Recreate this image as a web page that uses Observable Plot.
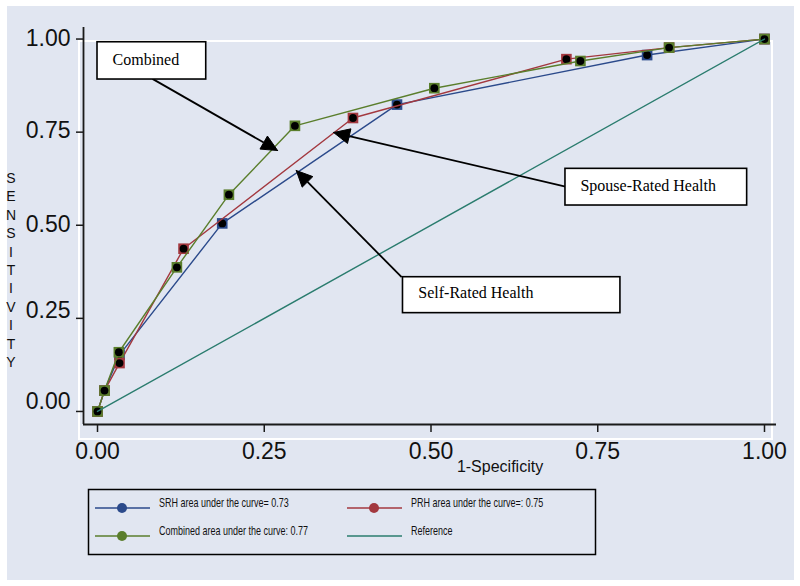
<!DOCTYPE html>
<html><head><meta charset="utf-8">
<script src="https://cdn.jsdelivr.net/npm/d3@7"></script>
<script src="https://cdn.jsdelivr.net/npm/@observablehq/plot@0.6"></script>
<style>
body{margin:0;background:#fff;}
#wrap{position:relative;width:800px;height:586px;overflow:hidden;background:#fff;}
#bg{position:absolute;left:7px;top:6px;width:787px;height:574px;background:#e1e6f1;}
#region{position:absolute;left:78px;top:40px;width:691px;height:396px;border:2px solid #fff;}
#chart{position:absolute;left:0;top:0;}
</style></head><body>
<div id="wrap"><div id="bg"></div><div id="region"></div><div id="chart"></div></div>
<script>
// ---- data ----
const xTicks = [0, 0.25, 0.5, 0.75, 1];
const yTicks = [0, 0.25, 0.5, 0.75, 1];
const seriesNames = ["SRH", "PRH", "Combined"];
const srhFpr  = [0, 0.0105, 0.033, 0.187, 0.449, 0.824, 1];
const srhSens = [0, 0.056, 0.152, 0.505, 0.824, 0.957, 1];
const prhFpr  = [0, 0.0105, 0.033, 0.129, 0.383, 0.703, 0.857, 1];
const prhSens = [0, 0.056, 0.130, 0.437, 0.788, 0.946, 0.977, 1];
const combFpr  = [0, 0.0105, 0.032, 0.119, 0.197, 0.296, 0.505, 0.724, 0.857, 1];
const combSens = [0, 0.056, 0.159, 0.387, 0.582, 0.767, 0.868, 0.941, 0.977, 1];
const refFpr  = [0, 1];
const refSens = [0, 1];
const legendLabels = ["SRH area under the curve= 0.73", "PRH area under the curve=: 0.75", "Combined area under the curve: 0.77", "Reference"];
const annoLabels = ["Combined", "Spouse-Rated Health", "Self-Rated Health"];
// annotation boxes, text anchors, arrows (data coordinates)
const annoBoxX1 = [0.0, 0.7016, 0.458];
const annoBoxX2 = [0.163, 0.974, 0.784];
const annoBoxY1 = [0.8913, 0.553, 0.264];
const annoBoxY2 = [0.9914, 0.6515, 0.3605];
const annoTextX = [0.0225, 0.724, 0.481];
const annoTextY = [0.9445, 0.607, 0.319];
const arrowFromX = [0.0825, 0.7016, 0.456];
const arrowFromY = [0.893, 0.604, 0.3605];
const arrowToX = [0.270, 0.354, 0.298];
const arrowToY = [0.7007, 0.749, 0.647];
const xLabel = "1-Specificity";
const yLabel = "SENSITIVITY";

// ---- styles ----
const colors = {SRH: "#2b4a8b", PRH: "#a3383f", Combined: "#5a7e2c", Reference: "#2a7c6e"};
const yLabelShift = [-10, -8, -1, -2, 0];
const W = 800, H = 586, mL = 83, mR = 24, mT = 27, mB = 162;
const xDomain = [-0.021, 1.018], yDomain = [-0.035, 1.031];
const kx = (W - mL - mR) / (xDomain[1] - xDomain[0]);
const ky = (H - mT - mB) / (yDomain[1] - yDomain[0]);

const seriesData = {
  SRH: srhFpr.map((x, i) => ({x, y: srhSens[i], s: "SRH"})),
  PRH: prhFpr.map((x, i) => ({x, y: prhSens[i], s: "PRH"})),
  Combined: combFpr.map((x, i) => ({x, y: combSens[i], s: "Combined"}))
};
const refData = refFpr.map((x, i) => ({x, y: refSens[i]}));

// arrows
const arrows = annoLabels.map((lab, i) => {
  const fx = arrowFromX[i], fy = arrowFromY[i], tx = arrowToX[i], ty = arrowToY[i];
  const dxp = (tx - fx) * kx, dyp = (ty - fy) * ky;
  const len = Math.hypot(dxp, dyp), ux = dxp / len, uy = dyp / len;
  const L = 16, Hw = 7.5;
  const bx = tx - ux * L / kx, by = ty - uy * L / ky;
  const nx = -uy, ny = ux;
  return {
    i, fx, fy, bx, by,
    poly: [[tx, ty], [bx + nx * Hw / kx, by + ny * Hw / ky], [bx - nx * Hw / kx, by - ny * Hw / ky], [tx, ty]].map(p => ({x: p[0], y: p[1], i}))
  };
});
const boxes = annoLabels.map((lab, i) => ({lab, x1: annoBoxX1[i], x2: annoBoxX2[i], y1: annoBoxY1[i], y2: annoBoxY2[i], tx: annoTextX[i], ty: annoTextY[i]}));

const marks = [
  Plot.ruleX([xDomain[0]], {stroke: "#1a1a1a", strokeWidth: 1.8}),
  Plot.ruleY([yDomain[0]], {stroke: "#1a1a1a", strokeWidth: 1.8}),
  Plot.axisX(xTicks, {tickSize: 8, tickPadding: 10, tickFormat: d3.format(".2f"), fontSize: 23, label: null, stroke: "#1a1a1a", strokeWidth: 1.5, fill: "#111"}),
  Plot.axisY(yTicks, {tickSize: 7, tickFormat: null, text: null, label: null, stroke: "#1a1a1a", strokeWidth: 1.5}),
  ...yTicks.map((t, i) => Plot.text([t], {x: xDomain[0], y: d => d, text: d3.format(".2f"), textAnchor: "end", dx: -13, dy: yLabelShift[i], fontSize: 23, fill: "#111"}))
];
for (const s of seriesNames) {
  marks.push(Plot.line(seriesData[s], {x: "x", y: "y", stroke: colors[s], strokeWidth: 1.4}));
  marks.push(Plot.dot(seriesData[s], {x: "x", y: "y", symbol: "square", r: 6, fill: colors[s], stroke: null}));
  marks.push(Plot.dot(seriesData[s], {x: "x", y: "y", r: 3.9, fill: "#000", stroke: null}));
}
marks.push(Plot.line(refData, {x: "x", y: "y", stroke: colors.Reference, strokeWidth: 1.4}));
// annotations
marks.push(Plot.link(arrows, {x1: "fx", y1: "fy", x2: "bx", y2: "by", stroke: "#000", strokeWidth: 1.8}));
marks.push(Plot.line(arrows.flatMap(a => a.poly), {x: "x", y: "y", z: "i", fill: "#000", stroke: "#000", strokeWidth: 1}));
marks.push(Plot.rect(boxes, {x1: "x1", x2: "x2", y1: "y1", y2: "y2", fill: "#fff", stroke: "#000", strokeWidth: 1.6}));
marks.push(Plot.text(boxes, {x: "tx", y: "ty", text: "lab", textAnchor: "start", fontSize: 16, fontFamily: "Liberation Serif, Times New Roman, serif", fill: "#000"}));

const chart = Plot.plot({
  width: W, height: H,
  marginLeft: mL, marginRight: mR, marginTop: mT, marginBottom: mB,
  x: {domain: xDomain},
  y: {domain: yDomain},
  style: {background: "transparent", fontFamily: "Liberation Sans, Arial, sans-serif", overflow: "visible", color: "#111"},
  marks
});
document.getElementById("chart").appendChild(chart);

// static titles and legend
const svg = d3.select(chart);
svg.append("text").attr("x", 500).attr("y", 472).attr("text-anchor", "middle")
  .attr("font-size", 16).attr("font-family", "Liberation Sans, Arial, sans-serif").attr("fill", "#111").text(xLabel);
const yl = svg.append("text").attr("font-size", 14).attr("font-family", "Liberation Sans, Arial, sans-serif").attr("fill", "#111").attr("text-anchor", "middle");
[...yLabel].forEach((c, i) => {
  yl.append("tspan").attr("x", 11).attr("y", 178 + i * 18.4).attr("dy", "0.35em").text(c);
});

const lg = svg.append("g");
lg.append("rect").attr("x", 88.5).attr("y", 489.5).attr("width", 507).attr("height", 65)
  .attr("fill", "none").attr("stroke", "#000").attr("stroke-width", 1.5);
const legendKeys = ["SRH", "PRH", "Combined", "Reference"];
legendKeys.forEach((k, i) => {
  const col = i % 2, row = Math.floor(i / 2);
  const x0 = col ? 347 : 95, y0 = row ? 536 : 508;
  lg.append("line").attr("x1", x0).attr("x2", x0 + 55).attr("y1", y0).attr("y2", y0)
    .attr("stroke", colors[k]).attr("stroke-width", 1.5);
  if (k !== "Reference") lg.append("circle").attr("cx", x0 + 27).attr("cy", y0).attr("r", 5).attr("fill", colors[k]);
  lg.append("text").attr("transform", `translate(${x0 + 64},${y0 - 1}) scale(0.75,1)`)
    .attr("text-anchor", "start")
    .attr("font-size", 12).attr("font-family", "Liberation Sans, Arial, sans-serif").attr("fill", "#111")
    .text(legendLabels[i]);
});
</script>
</body></html>
